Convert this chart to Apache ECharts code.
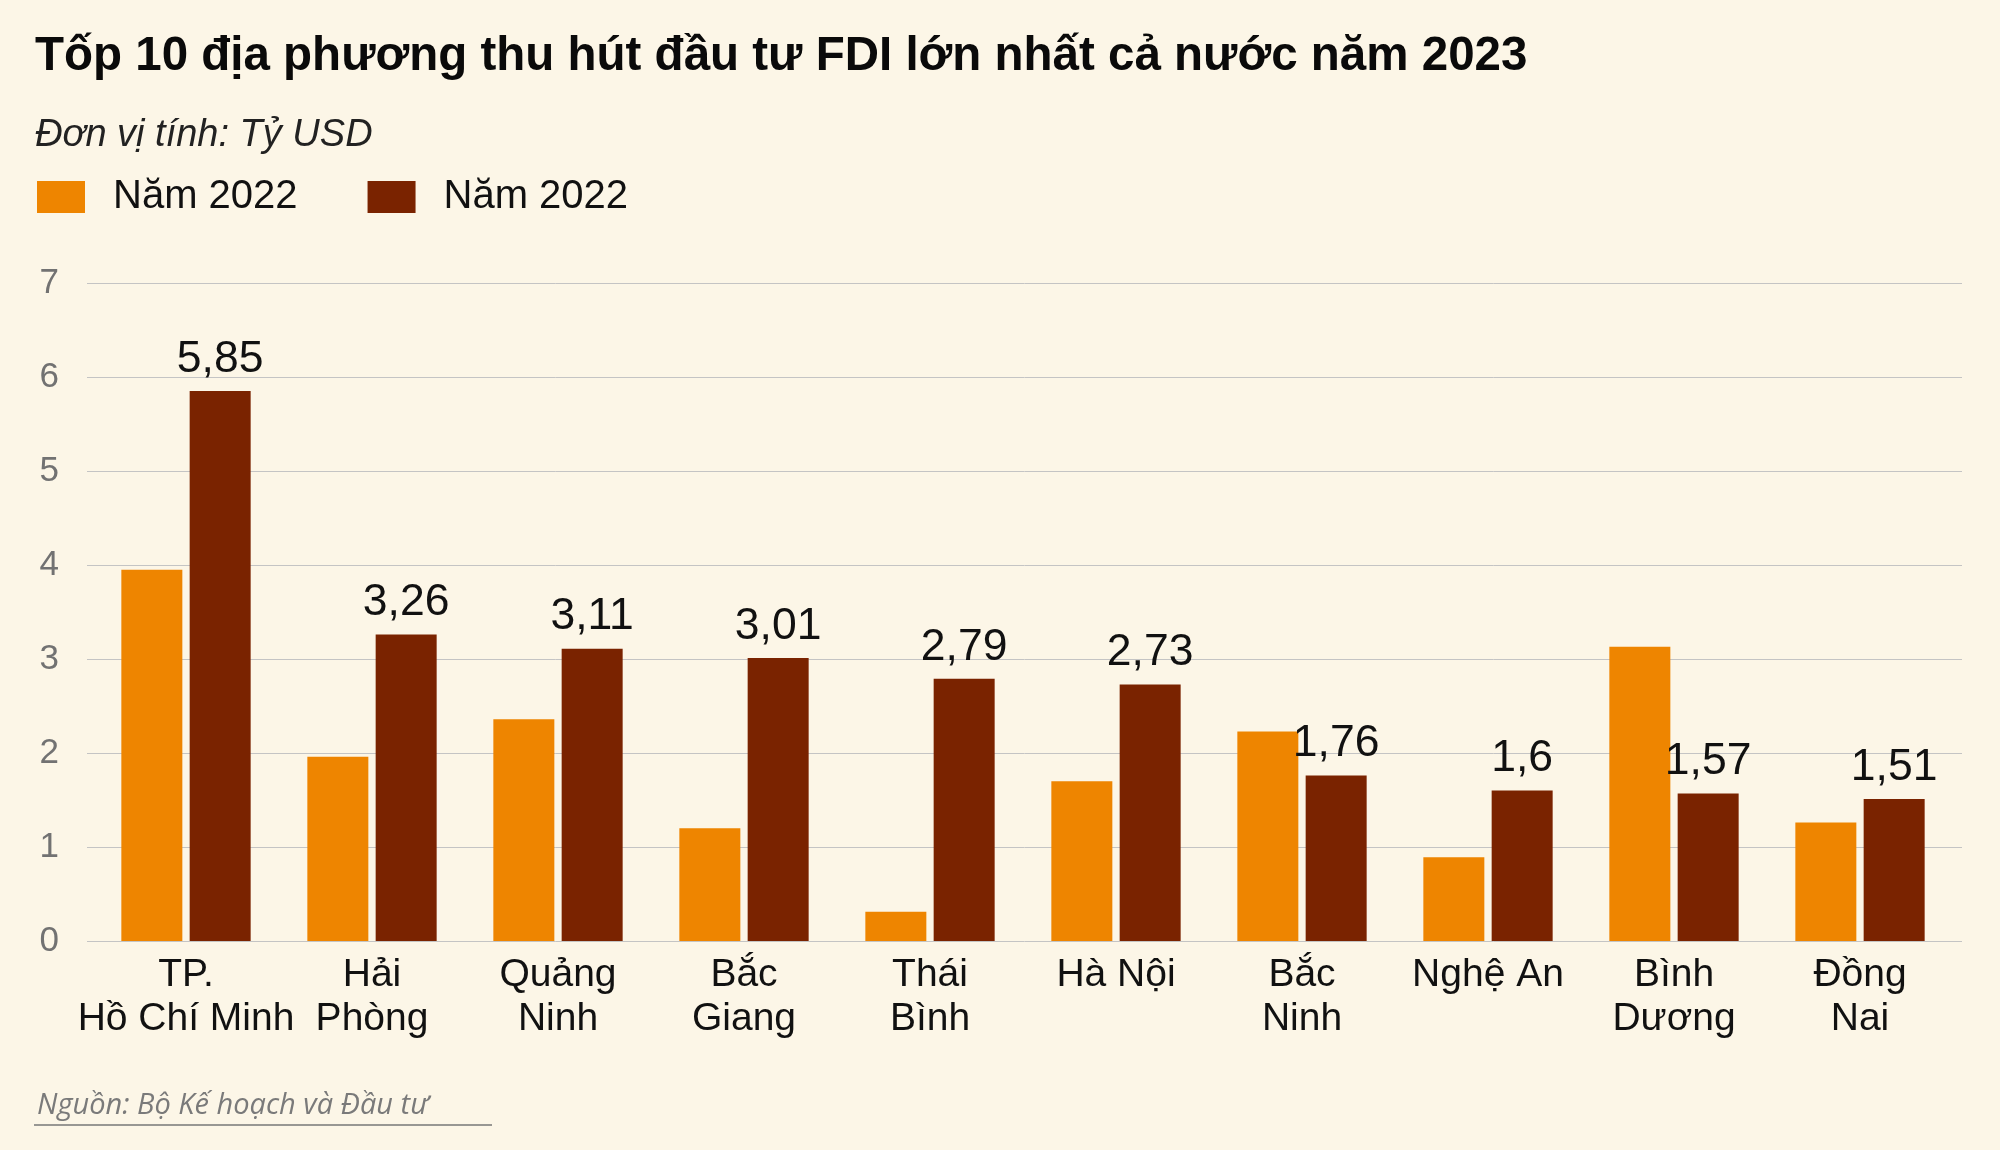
<!DOCTYPE html>
<html>
<head>
<meta charset="utf-8">
<script src="https://cdn.jsdelivr.net/npm/echarts@6/dist/echarts.min.js"></script>
<style>
html,body{margin:0;padding:0;background:#fcf6e7;}
#c{width:2000px;height:1150px;}
</style>
</head>
<body>
<div id="c"></div>
<script>
var categories = ['TP.\nHồ Chí Minh','Hải\nPhòng','Quảng\nNinh','Bắc\nGiang','Thái\nBình','Hà Nội','Bắc\nNinh','Nghệ An','Bình\nDương','Đồng\nNai'];
var values2022 = [3.95, 1.96, 2.36, 1.2, 0.31, 1.7, 2.23, 0.89, 3.13, 1.26];
var values2023 = [5.85, 3.26, 3.11, 3.01, 2.79, 2.73, 1.76, 1.6, 1.57, 1.51];
var legendLabels = ['Năm 2022', 'Năm 2022'];
var seriesKeys = ['s1', 's2'];
var yTicks = [0, 7, 1];

var FONT = '"Liberation Sans", Arial, sans-serif';
var chart = echarts.init(document.getElementById('c'), null, {renderer:'canvas'});
chart.setOption({
  backgroundColor: '#fcf6e7',
  animation: false,
  title: [
    {text: 'Tốp 10 địa phương thu hút đầu tư FDI lớn nhất cả nước năm 2023', left: 30, top: 28,
     textStyle: {fontFamily: FONT, fontWeight: 'bold', fontSize: 47.5, color: '#0a0a0a'}},
    {text: 'Đơn vị tính: Tỷ USD', left: 30, top: 111,
     textStyle: {fontFamily: FONT, fontStyle: 'italic', fontWeight: 'normal', fontSize: 38, color: '#222'}},
    {text: 'Nguồn: Bộ Kế hoạch và Đầu tư', left: 32, top: 1086,
     textStyle: {fontFamily: '"Open Sans", sans-serif', fontStyle: 'italic', fontWeight: 'normal', fontSize: 29, color: '#7a7a7a'}}
  ],
  graphic: [
    {type: 'line', shape: {x1: 34, y1: 1125, x2: 492, y2: 1125}, style: {stroke: '#777', lineWidth: 1.5}}
  ],
  legend: {
    left: 32, top: 172,
    itemWidth: 48, itemHeight: 32, itemGap: 70,
    icon: 'rect',
    data: seriesKeys,
    formatter: function (name) { return legendLabels[seriesKeys.indexOf(name)]; },
    textStyle: {fontFamily: FONT, fontSize: 40, color: '#111', padding: [0, 0, 0, 23]}
  },
  grid: [
    {left: 87, right: 38, top: 283, bottom: 209, containLabel: false},
    {left: 93, right: 47, top: 283, bottom: 209, containLabel: false}
  ],
  xAxis: [
    {type: 'category', gridIndex: 0, data: categories, show: false},
    {
      type: 'category', gridIndex: 1,
      data: categories,
      axisLine: {show: false},
      axisTick: {show: false},
      axisLabel: {fontFamily: FONT, fontSize: 39, color: '#111', lineHeight: 44, margin: 12, interval: 0}
    }
  ],
  yAxis: [
    {
      type: 'value', gridIndex: 0, min: yTicks[0], max: yTicks[1], interval: yTicks[2],
      axisLine: {show: false}, axisTick: {show: false},
      splitLine: {lineStyle: {color: '#c4c4c4', width: 1}},
      axisLabel: {fontFamily: FONT, fontSize: 35, color: '#727272', margin: 28}
    },
    {
      type: 'value', gridIndex: 1, min: yTicks[0], max: yTicks[1], interval: yTicks[2],
      show: false, splitLine: {show: false}
    }
  ],
  series: [
    {name: seriesKeys[0], type: 'bar', xAxisIndex: 1, yAxisIndex: 1, data: values2022, barWidth: 61, barGap: '12%',
     itemStyle: {color: '#ee8500'}},
    {name: seriesKeys[1], type: 'bar', xAxisIndex: 1, yAxisIndex: 1, data: values2023, barWidth: 61, barGap: '12%',
     itemStyle: {color: '#7a2300'},
     label: {show: true, position: 'top', distance: 9, fontFamily: FONT, fontSize: 44.5, color: '#111',
       formatter: function (p) { return String(p.value).replace('.', ','); }}}
  ]
});
</script>
</body>
</html>
